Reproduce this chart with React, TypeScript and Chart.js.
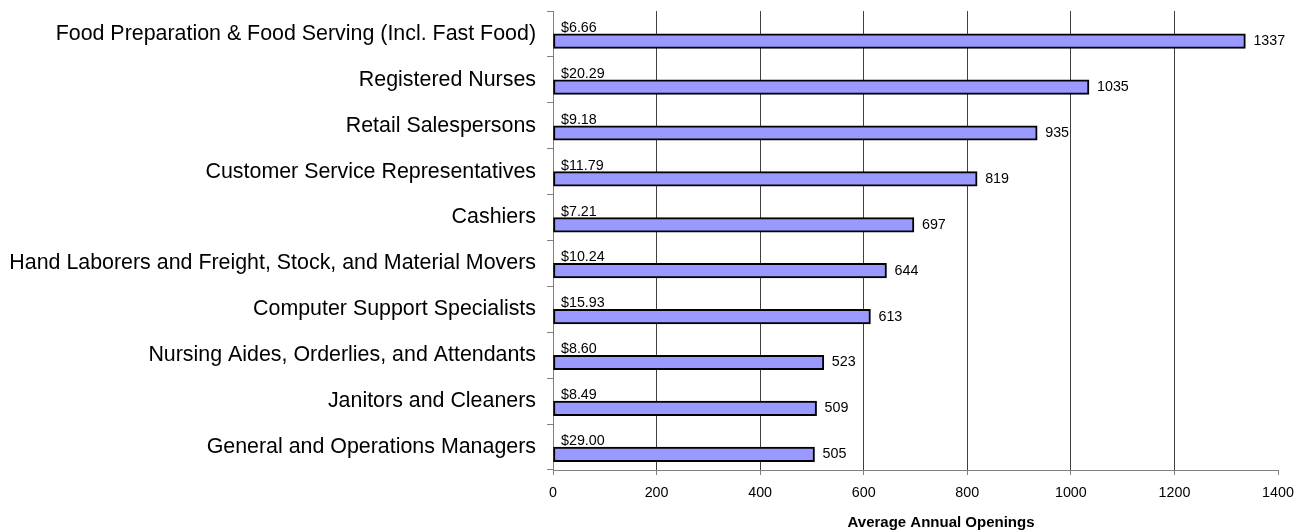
import React, { useEffect, useRef } from "react";
import { Chart, registerables } from "chart.js";

Chart.register(...registerables);

const categories = [
  "Food Preparation & Food Serving (Incl. Fast Food)",
  "Registered Nurses",
  "Retail Salespersons",
  "Customer Service Representatives",
  "Cashiers",
  "Hand Laborers and Freight, Stock, and Material Movers",
  "Computer Support Specialists",
  "Nursing Aides, Orderlies, and Attendants",
  "Janitors and Cleaners",
  "General and Operations Managers",
];
const openings = [1337, 1035, 935, 819, 697, 644, 613, 523, 509, 505];
const wages = [6.66, 20.29, 9.18, 11.79, 7.21, 10.24, 15.93, 8.6, 8.49, 29.0];
const placeholder = categories.map(() => null);
const xTitle = "Average Annual Openings";

const FONT = "'Liberation Sans', Arial, sans-serif";

const labelPlugin = {
  id: "labels",
  afterDatasetsDraw(chart: any) {
    const ctx = chart.ctx;
    const meta = chart.getDatasetMeta(1);
    const area = chart.chartArea;
    ctx.save();
    ctx.fillStyle = "#000";
    ctx.font = `14.3px ${FONT}`;
    meta.data.forEach((bar: any, i: number) => {
      const h = bar.height;
      ctx.textAlign = "left";
      ctx.textBaseline = "middle";
      ctx.fillText(String(openings[i]), bar.x + 8, bar.y);
      ctx.textBaseline = "alphabetic";
      ctx.fillText("$" + wages[i].toFixed(2), area.left + 8, bar.y - h / 2 - 2);
    });
    ctx.font = `bold 15px ${FONT}`;
    ctx.textAlign = "center";
    ctx.textBaseline = "alphabetic";
    ctx.fillText(xTitle, 941, 527);
    ctx.restore();
  },
};

export default function App() {
  const ref = useRef<HTMLCanvasElement>(null);
  useEffect(() => {
    if (!ref.current) return;
    const chart = new Chart(ref.current, {
      type: "bar",
      data: {
        labels: categories,
        datasets: [
          {
            label: "spacer",
            data: placeholder as any,
            backgroundColor: "transparent",
            borderWidth: 0,
          },
          {
            label: "Average Annual Openings",
            data: openings,
            backgroundColor: "#9999FF",
            borderColor: "#000000",
            borderWidth: 2,
            borderSkipped: false,
          },
        ],
      },
      options: {
        indexAxis: "y",
        animation: false,
        responsive: true,
        maintainAspectRatio: false,
        datasets: { bar: { barThickness: 14.5 } },
        layout: { padding: { top: 11, right: 28, left: 0, bottom: 0 } },
        plugins: {
          legend: { display: false },
          tooltip: { enabled: false },
          title: { display: false },
        },
        scales: {
          x: {
            type: "linear",
            min: 0,
            max: 1400,
            ticks: {
              stepSize: 200,
              color: "#000",
              font: { family: FONT, size: 14.3 },
              padding: 9,
              callback: (v: any) => String(v),
            },
            grid: {
              color: (c: any) =>
                c.tick && (c.tick.value === 1400 || c.tick.value === 0)
                  ? "rgba(0,0,0,0)"
                  : "#404040",
              tickColor: "#808080",
              tickLength: 5,
              lineWidth: 1,
            },
            border: { color: "#808080", width: 1 },
            afterFit: (s: any) => {
              s.height = 61;
              s.paddingLeft = 0;
              s.paddingRight = 0;
            },
          },
          y: {
            type: "category",
            ticks: {
              color: "#000",
              font: { family: FONT, size: 21.4 },
              padding: 11,
              autoSkip: false,
            },
            grid: {
              drawOnChartArea: false,
              offset: true,
              tickLength: 6,
              color: "#808080",
            },
            border: { color: "#808080", width: 1 },
            afterFit: (s: any) => {
              s.width = 553;
              s.paddingTop = 0;
              s.paddingBottom = 0;
            },
          },
        },
      },
      plugins: [labelPlugin],
    });
    return () => chart.destroy();
  }, []);
  return (
    <div style={{ position: "absolute", left: 0, top: 0, width: 1306, height: 531 }}>
      <canvas ref={ref} />
    </div>
  );
}
